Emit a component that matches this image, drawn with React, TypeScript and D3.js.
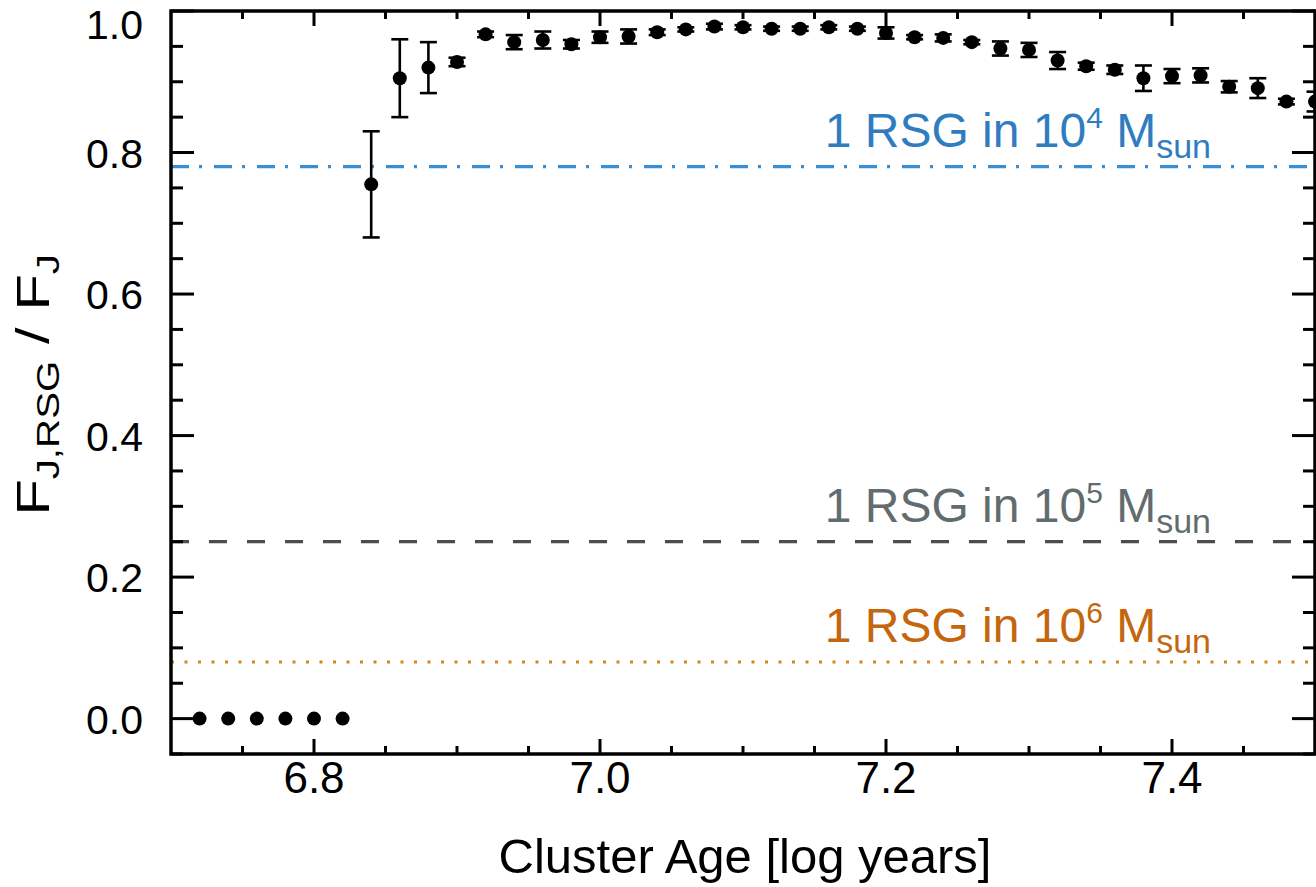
import React from "react";
import * as d3 from "d3";

// ---- data ----
const ages = [
  6.72, 6.74, 6.76, 6.78, 6.80, 6.82, 6.84, 6.86, 6.88, 6.90,
  6.92, 6.94, 6.96, 6.98, 7.00, 7.02, 7.04, 7.06, 7.08, 7.10,
  7.12, 7.14, 7.16, 7.18, 7.20, 7.22, 7.24, 7.26, 7.28, 7.30,
  7.32, 7.34, 7.36, 7.38, 7.40, 7.42, 7.44, 7.46, 7.48, 7.50,
];
const fractions = [
  0, 0, 0, 0, 0, 0, 0.755, 0.905, 0.92, 0.928,
  0.967, 0.956, 0.959, 0.953, 0.963, 0.964, 0.97, 0.974, 0.978, 0.977,
  0.975, 0.975, 0.977, 0.975, 0.969, 0.963, 0.962, 0.956, 0.947, 0.945,
  0.93, 0.922, 0.917, 0.905, 0.908, 0.909, 0.893, 0.891, 0.872, 0.872,
];
const errors = [
  0, 0, 0, 0, 0, 0, 0.075, 0.055, 0.036, 0.006,
  0.004, 0.01, 0.012, 0.006, 0.008, 0.01, 0.004, 0.003, 0.004, 0.003,
  0.003, 0.003, 0.003, 0.003, 0.008, 0.003, 0.005, 0.003, 0.01, 0.01,
  0.012, 0.005, 0.006, 0.018, 0.01, 0.01, 0.008, 0.014, 0.004, 0.014,
];
const refLevels = [0.78, 0.25, 0.08];
const refExponents = ["4", "5", "6"];
const xMajorTicks = [6.8, 7.0, 7.2, 7.4];
const xTickLabels = ["6.8", "7.0", "7.2", "7.4"];
const yMajorTicks = [0.0, 0.2, 0.4, 0.6, 0.8, 1.0];
const yTickLabels = ["0.0", "0.2", "0.4", "0.6", "0.8", "1.0"];
const xMinorTicks = [6.75, 6.85, 6.9, 6.95, 7.05, 7.1, 7.15, 7.25, 7.3, 7.35, 7.45];
const yMinorTicks = [-0.05, 0.05, 0.1, 0.15, 0.25, 0.3, 0.35, 0.45, 0.5, 0.55, 0.65, 0.7, 0.75, 0.85, 0.9, 0.95];

// ---- styles ----
const W = 1316;
const H = 887;
const M = { left: 171, right: 1315, top: 11, bottom: 754 };
const FONT = "'Liberation Sans', Arial, Helvetica, sans-serif";
const refStyles = [
  { stroke: "#3a8ed4", text: "#2f7dc0", dash: "18 10 3 12" },
  { stroke: "#4d4d4d", text: "#626c6e", dash: "18 20" },
  { stroke: "#d08a1c", text: "#c4660e", dash: "3 10.5" },
];

export default function App() {
  const x = d3.scaleLinear().domain([6.7, 7.5]).range([M.left, M.right]);
  const y = d3.scaleLinear().domain([-0.05, 1.0]).range([M.bottom, M.top]);
  const xMajLen = 15, xMinLen = 8, yMajLen = 23, yMinLen = 12;
  const tickFs = 41;
  const xTickFs = 44;
  const refFs = 48;

  return (
    <svg
      width={W}
      height={H}
      style={{ position: "absolute", left: 0, top: 0, background: "#fff" }}
      fontFamily={FONT}
    >
      <rect x={0} y={0} width={W} height={H} fill="#fff" />

      {/* reference lines */}
      {refLevels.map((v, i) => (
        <g key={"ref" + i}>
          <line
            x1={M.left}
            x2={M.right}
            y1={y(v)}
            y2={y(v)}
            stroke={refStyles[i].stroke}
            strokeWidth={3.2}
            strokeDasharray={refStyles[i].dash}
          />
          <text
            x={1211}
            y={y(v) - 20}
            textAnchor="end"
            fontSize={refFs}
            fill={refStyles[i].text}
          >
            1 RSG in 10
            <tspan fontSize={30} dy={-19}>{refExponents[i]}</tspan>
            <tspan fontSize={refFs} dy={19}>{"\u00a0M"}</tspan>
            <tspan fontSize={34} dy={11}>sun</tspan>
          </text>
        </g>
      ))}

      {/* error bars */}
      {ages.map((a, i) =>
        errors[i] > 0 ? (
          <g key={"e" + i} stroke="#000" strokeWidth={2.6}>
            <line x1={x(a)} x2={x(a)} y1={y(fractions[i] - errors[i])} y2={y(fractions[i] + errors[i])} />
            <line x1={x(a) - 8.5} x2={x(a) + 8.5} y1={y(fractions[i] - errors[i])} y2={y(fractions[i] - errors[i])} />
            <line x1={x(a) - 8.5} x2={x(a) + 8.5} y1={y(fractions[i] + errors[i])} y2={y(fractions[i] + errors[i])} />
          </g>
        ) : null
      )}
      {/* points */}
      {ages.map((a, i) => (
        <circle key={"p" + i} cx={x(a)} cy={y(fractions[i])} r={7} fill="#000" />
      ))}

      {/* axes frame */}
      <rect
        x={M.left}
        y={M.top}
        width={M.right - M.left}
        height={M.bottom - M.top}
        fill="none"
        stroke="#000"
        strokeWidth={3.5}
      />
      {xMajorTicks.map((t, i) => (
        <g key={"xt" + i} stroke="#000" strokeWidth={3}>
          <line x1={x(t)} x2={x(t)} y1={M.bottom} y2={M.bottom - xMajLen} />
          <line x1={x(t)} x2={x(t)} y1={M.top} y2={M.top + xMajLen} />
        </g>
      ))}
      {xMinorTicks.map((t, i) => (
        <g key={"xm" + i} stroke="#000" strokeWidth={3}>
          <line x1={x(t)} x2={x(t)} y1={M.bottom} y2={M.bottom - xMinLen} />
          <line x1={x(t)} x2={x(t)} y1={M.top} y2={M.top + xMinLen} />
        </g>
      ))}
      {yMajorTicks.map((t, i) => (
        <g key={"yt" + i} stroke="#000" strokeWidth={3}>
          <line x1={M.left} x2={M.left + yMajLen} y1={y(t)} y2={y(t)} />
          <line x1={M.right} x2={M.right - yMajLen} y1={y(t)} y2={y(t)} />
        </g>
      ))}
      {yMinorTicks.map((t, i) => (
        <g key={"ym" + i} stroke="#000" strokeWidth={3}>
          <line x1={M.left} x2={M.left + yMinLen} y1={y(t)} y2={y(t)} />
          <line x1={M.right} x2={M.right - yMinLen} y1={y(t)} y2={y(t)} />
        </g>
      ))}

      {/* tick labels */}
      {xMajorTicks.map((t, i) => (
        <text key={"xl" + i} x={x(t)} y={793} textAnchor="middle" fontSize={xTickFs} fill="#000">
          {xTickLabels[i]}
        </text>
      ))}
      {yMajorTicks.map((t, i) => (
        <text
          key={"yl" + i}
          x={143}
          y={Math.max(y(t) + 15, 39)}
          textAnchor="end"
          fontSize={tickFs}
          fill="#000"
        >
          {yTickLabels[i]}
        </text>
      ))}

      {/* axis titles */}
      <text x={(M.left + M.right) / 2 + 2} y={873} textAnchor="middle" fontSize={49} fill="#000">
        Cluster Age [log years]
      </text>
      <g transform="translate(49, 385) rotate(-90) scale(1.3, 1)">
        <text textAnchor="middle" fontSize={46} fill="#000">
          F<tspan fontSize={31} dy={10}>J,RSG</tspan>
          <tspan fontSize={46} dy={-10}>{"\u00a0/\u00a0F"}</tspan>
          <tspan fontSize={31} dy={10}>J</tspan>
        </text>
      </g>
    </svg>
  );
}
